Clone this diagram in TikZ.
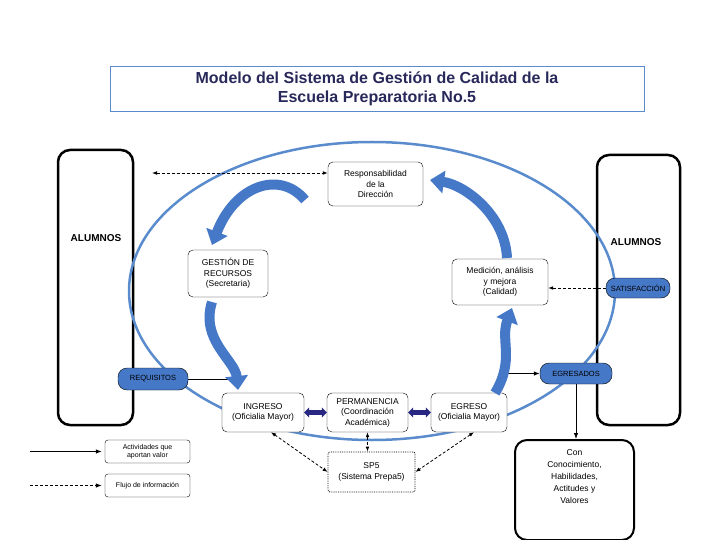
\documentclass[tikz,border=0pt]{standalone}
\usepackage{fontspec}
\setmainfont{Liberation Sans}
\usetikzlibrary{arrows.meta,shapes.geometric}
\definecolor{ell}{RGB}{90,140,205}
\definecolor{blk}{RGB}{70,120,200}
\definecolor{navy}{RGB}{40,40,130}
\definecolor{ttl}{RGB}{40,40,90}
\begin{document}
\begin{tikzpicture}[x=1pt,y=-1pt,
 box/.style={draw,rounded corners=5pt,align=center,font=\fontsize{8.5}{10.5}\selectfont,inner sep=1pt},
 pill/.style={draw,fill=blk,rounded corners=9pt,font=\fontsize{7.5}{9}\selectfont,inner sep=1pt},
 big/.style={draw,line width=2.5pt,rounded corners=12pt},
 dsh/.style={densely dashed,thick,{Latex[length=5pt]}-{Latex[length=5pt]}},
 sol/.style={thick,-{Latex[length=6pt]}},
 curv/.style={line width=10pt,draw=blk,-{Triangle[length=14pt,width=22pt]}},
 nav/.style={line width=5pt,draw=navy,{Triangle[length=5pt,width=10pt]}-{Triangle[length=5pt,width=10pt]}}]
\useasboundingbox (0,0) rectangle (720,540);
% title
\node[draw=ell,thick,minimum width=534pt,minimum height=45pt,align=center,text=ttl,font=\fontsize{16}{19}\selectfont\bfseries] (title) at (377,88.5) {Modelo del Sistema de Gestión de Calidad de la\\Escuela Preparatoria No.5};
% side boxes
\draw[big] (58,150) rectangle (133,425);
\draw[big] (597,155) rectangle (680,425);
\node[fill=white,inner sep=1pt,font=\fontsize{10}{12}\selectfont\bfseries] (al1) at (96,238) {ALUMNOS};
\node[fill=white,inner sep=1pt,font=\fontsize{10}{12}\selectfont\bfseries] (al2) at (636,242) {ALUMNOS};
% ellipse
\draw[ell,line width=2.5pt] (372,291) ellipse (243 and 149);
% boxes
\node[box,fill=white,minimum width=95pt,minimum height=44pt] (resp) at (375.5,184) {Responsabilidad\\de la\\Dirección};
\node[box,fill=white,minimum width=80pt,minimum height=47pt] (gest) at (228,273.5) {GESTIÓN DE\\RECURSOS\\(Secretaria)};
\node[box,fill=white,minimum width=96pt,minimum height=46pt] (med) at (500,282) {Medición, análisis\\y mejora\\(Calidad)};
\node[box,fill=white,minimum width=82pt,minimum height=39pt] (ing) at (263,412.5) {INGRESO\\(Oficialia Mayor)};
\node[box,fill=white,minimum width=81pt,minimum height=39pt] (perm) at (367.5,412.5) {PERMANENCIA\\(Coordinación\\Académica)};
\node[box,fill=white,minimum width=76pt,minimum height=39pt] (egr) at (469,412.5) {EGRESO\\(Oficialia Mayor)};
\node[box,densely dotted,thick,rounded corners=2pt,minimum width=87pt,minimum height=40pt] (sp5) at (371.5,472) {SP5\\(Sistema Prepa5)};
\node[box,line width=2pt,rounded corners=12pt,minimum width=119pt,minimum height=100pt,font=\fontsize{8.5}{12}\selectfont] (con) at (574.5,490) {Con\\Conocimiento,\\Habilidades,\\Actitudes y\\Valores\\[14pt]};
% pills
\node[pill,minimum width=64pt,minimum height=20pt] (sat) at (638,288) {SATISFACCIÓN};
\node[pill,minimum width=70pt,minimum height=22pt] (req) at (153,379) {REQUISITOS};
\node[pill,minimum width=72pt,minimum height=21pt] (egd) at (576,373.5) {EGRESADOS};
% legend
\node[box,rounded corners=3pt,minimum width=85pt,minimum height=23pt,font=\fontsize{7}{8}\selectfont] (leg1) at (147.5,451.5) {Actividades que\\aportan valor};
\node[box,rounded corners=3pt,minimum width=85pt,minimum height=23pt,font=\fontsize{7}{8}\selectfont] (leg2) at (147.5,485.5) {Flujo de información};
\coordinate (l1) at (30,451.5);
\coordinate (l2) at (30,485.5);
\draw[sol] (l1) -- ([xshift=-3pt]leg1.west);
\draw[densely dashed,thick,-{Latex[length=6pt]}] (l2) -- ([xshift=-3pt]leg2.west);
% arrows
\coordinate (dl) at (152,173);
\draw[dsh] (dl) -- (resp.west|-dl);
\draw[densely dashed,thick,-{Latex[length=5pt]}] (sat.west) -- (med.east|-sat);
\coordinate (rq) at (245,379);
\draw[sol] (req.east) -- (rq);
\coordinate (eg0) at (505,373.5);
\draw[sol] (eg0) -- (egd.west);
\draw[sol] (egd.south) -- (con.north-|egd.south);
\draw[dsh] ([xshift=8pt]ing.south) -- (sp5.west);
\draw[dsh] (perm.south) -- (sp5.north-|perm.south);
\draw[dsh] ([xshift=5pt]egr.south) -- (sp5.east);
\draw[nav] (ing.east) -- (perm.west);
\draw[nav] (perm.east) -- (egr.west);
% curved block arrows
\draw[curv] (305,200) .. controls (280,170) and (235,185) .. (212,245);
\draw[curv] (212,302) .. controls (200,340) and (235,360) .. (238,390);
\draw[curv] (495,393) .. controls (515,360) and (500,340) .. (512,308);
\draw[curv] (507,258) .. controls (505,215) and (465,185) .. (430,180);
\end{tikzpicture}
\end{document}
